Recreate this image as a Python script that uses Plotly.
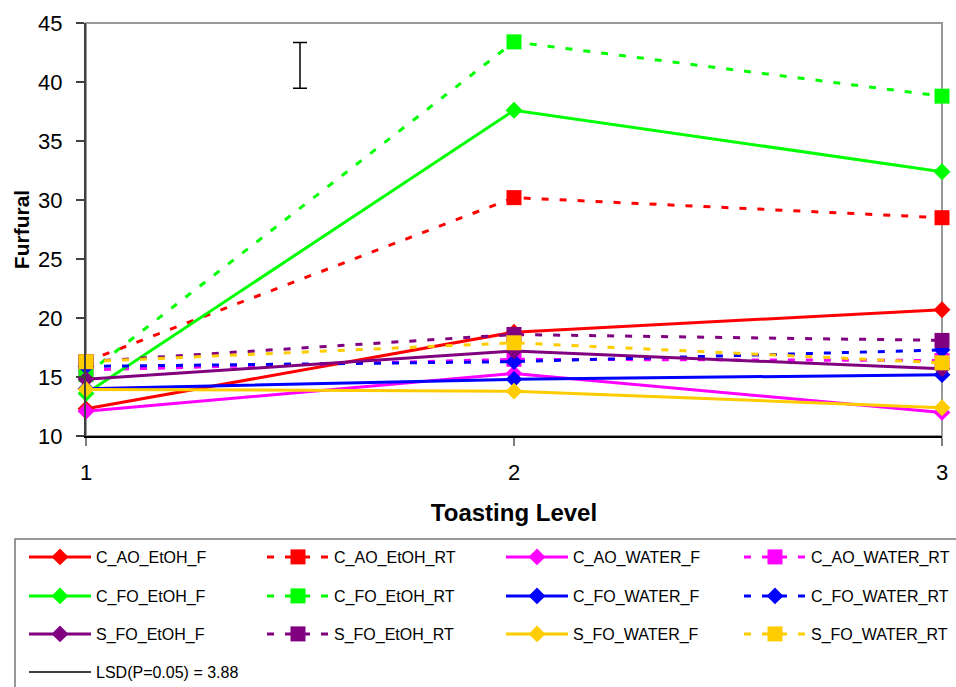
import plotly.graph_objects as go

toasting_levels = [1, 2, 3]

series_names = [
    "C_AO_EtOH_F", "C_AO_EtOH_RT", "C_AO_WATER_F", "C_AO_WATER_RT",
    "C_FO_EtOH_F", "C_FO_EtOH_RT", "C_FO_WATER_F", "C_FO_WATER_RT",
    "S_FO_EtOH_F", "S_FO_EtOH_RT", "S_FO_WATER_F", "S_FO_WATER_RT",
]

C_AO_EtOH_F = [12.3, 18.8, 20.7]
C_AO_EtOH_RT = [16.3, 30.2, 28.5]
C_AO_WATER_F = [12.1, 15.3, 12.0]
C_AO_WATER_RT = [15.6, 16.5, 16.4]
C_FO_EtOH_F = [13.6, 37.6, 32.4]
C_FO_EtOH_RT = [15.2, 43.4, 38.8]
C_FO_WATER_F = [14.0, 14.8, 15.2]
C_FO_WATER_RT = [15.9, 16.3, 17.3]
S_FO_EtOH_F = [14.8, 17.2, 15.7]
S_FO_EtOH_RT = [16.3, 18.6, 18.1]
S_FO_WATER_F = [13.95, 13.8, 12.4]
S_FO_WATER_RT = [16.3, 17.9, 16.2]

series_values = [
    C_AO_EtOH_F, C_AO_EtOH_RT, C_AO_WATER_F, C_AO_WATER_RT,
    C_FO_EtOH_F, C_FO_EtOH_RT, C_FO_WATER_F, C_FO_WATER_RT,
    S_FO_EtOH_F, S_FO_EtOH_RT, S_FO_WATER_F, S_FO_WATER_RT,
]

# LSD bar
lsd_label = "LSD(P=0.05) = 3.88"
lsd_x = [1.5]
lsd_center = [41.4]
lsd_value = 3.88

y_tick_values = [10, 15, 20, 25, 30, 35, 40, 45]

colors = ["#FF0000", "#FF0000", "#FF00FF", "#FF00FF",
          "#00FF00", "#00FF00", "#0000FF", "#0000FF",
          "#800080", "#800080", "#FFCC00", "#FFCC00"]
symbols = ["diamond", "square", "diamond", "square",
           "diamond", "square", "diamond", "diamond",
           "diamond", "square", "diamond", "square"]

FONT = "Arial, 'Liberation Sans', sans-serif"

# geometry helpers (pixels -> paper)
L, R, T, B = 86, 14, 23, 251
W, H = 956, 687
pw, ph = W - L - R, H - T - B

def px2x(px):
    return (px - L) / pw

def py2y(py):
    return (H - B - py) / ph

fig = go.Figure()

# each legend row split into a left half and right half
def legend_id(i):
    row, col = divmod(i, 4)
    k = row * 2 + (col // 2) + 1
    return "legend" if k == 1 else f"legend{k}"

for i, (name, vals) in enumerate(zip(series_names, series_values)):
    dashed = name.endswith("_RT")
    sym = symbols[i]
    fig.add_trace(go.Scatter(
        x=toasting_levels, y=vals, name=name,
        mode="lines+markers",
        line=dict(color=colors[i], width=3, dash="7px,11px" if dashed else "solid"),
        marker=dict(symbol=sym, size=(15 if sym == "square" else 13), color=colors[i],
                    line=dict(width=0)),
        cliponaxis=False,
        legend=legend_id(i),
    ))

fig.add_trace(go.Scatter(
    x=lsd_x, y=lsd_center, name=lsd_label, mode="lines",
    line=dict(color="black", width=1.5),
    error_y=dict(type="data", array=[lsd_value / 2], symmetric=True,
                 color="black", thickness=1.5, width=7),
    cliponaxis=False,
    legend="legend7",
))

row_centers = [557, 596, 634, 672]
legend_common = dict(
    orientation="h", xanchor="left", yanchor="middle",
    font=dict(family=FONT, size=16, color="black"),
    entrywidth=161, entrywidthmode="pixels",
    itemwidth=62, bgcolor="rgba(0,0,0,0)", borderwidth=0,
    traceorder="normal", itemclick=False, itemdoubleclick=False,
)
left_x = px2x(24)
right_x = px2x(24 + 477)
legends = {}
for k in range(1, 8):
    key = "legend" if k == 1 else f"legend{k}"
    row = (k - 1) // 2
    half = (k - 1) % 2
    legends[key] = dict(x=(left_x if half == 0 else right_x), y=py2y(row_centers[row]),
                        **legend_common)
fig.update_layout(**legends)

fig.update_layout(
    width=W, height=H,
    margin=dict(l=L, r=R, t=T, b=B, autoexpand=False),
    paper_bgcolor="white", plot_bgcolor="white",
    font=dict(family=FONT, color="black"),
    showlegend=True,
    xaxis=dict(
        range=[1, 3], tickvals=toasting_levels, ticktext=[str(v) for v in toasting_levels],
        showgrid=False, zeroline=False,
        showline=True, linecolor="black", linewidth=1.5,
        ticks="outside", ticklen=8, tickcolor="#808080", tickwidth=1.5,
        tickfont=dict(size=22, family=FONT), ticklabelstandoff=8,
        title=dict(text="<b>Toasting Level</b>", font=dict(size=24, family=FONT), standoff=20),
    ),
    yaxis=dict(
        range=[10, 45], tickvals=y_tick_values,
        showgrid=False, zeroline=False,
        showline=True, linecolor="#404040", linewidth=2,
        ticks="outside", ticklen=8, tickcolor="#404040", tickwidth=1.5,
        tickfont=dict(size=22, family=FONT), ticklabelstandoff=9,
        title=dict(text="<b>Furfural</b>", font=dict(size=21, family=FONT), standoff=3),
    ),
    shapes=[
        dict(type="rect", xref="paper", yref="paper", x0=0, x1=1, y0=0, y1=1,
             line=dict(color="#999999", width=2), layer="below"),
        dict(type="rect", xref="paper", yref="paper",
             x0=px2x(15), x1=px2x(960), y0=py2y(695), y1=py2y(539),
             line=dict(color="#777777", width=1.5), layer="below"),
    ],
)

fig.write_html(
    "out.html",
    config={"displayModeBar": False},
    post_script="document.body.style.margin='0';document.body.style.overflow='hidden';",
)
